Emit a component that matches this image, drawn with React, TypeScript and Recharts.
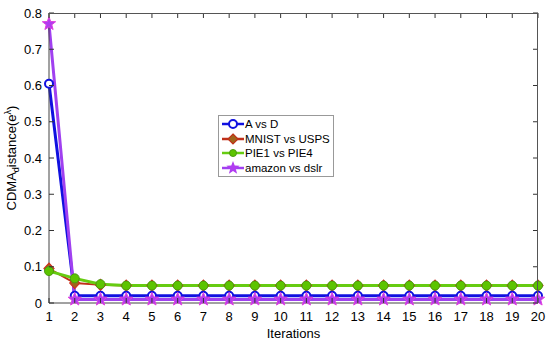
import { LineChart, Line, XAxis, YAxis } from 'recharts'

const iterations = Array.from({ length: 20 }, (_, i) => i + 1)
const aVsD = [0.605, 0.02, 0.02, 0.02, 0.02, 0.02, 0.02, 0.02, 0.02, 0.02, 0.02, 0.02, 0.02, 0.02, 0.02, 0.02, 0.02, 0.02, 0.02, 0.02]
const mnistVsUsps = [0.095, 0.055, 0.05, 0.048, 0.048, 0.048, 0.048, 0.048, 0.048, 0.048, 0.048, 0.048, 0.048, 0.048, 0.048, 0.048, 0.048, 0.048, 0.048, 0.048]
const pie1VsPie4 = [0.088, 0.068, 0.052, 0.048, 0.048, 0.048, 0.048, 0.048, 0.048, 0.048, 0.048, 0.048, 0.048, 0.048, 0.048, 0.048, 0.048, 0.048, 0.048, 0.048]
const amazonVsDslr = [0.77, 0.01, 0.01, 0.01, 0.01, 0.01, 0.01, 0.01, 0.01, 0.01, 0.01, 0.01, 0.01, 0.01, 0.01, 0.01, 0.01, 0.01, 0.01, 0.01]
const yTicks = [0, 0.1, 0.2, 0.3, 0.4, 0.5, 0.6, 0.7, 0.8]

const data = iterations.map((it, i) => ({
  it,
  ad: aVsD[i],
  mu: mnistVsUsps[i],
  pp: pie1VsPie4[i],
  az: amazonVsDslr[i],
}))

const FONT = 'Liberation Sans, Arial, sans-serif'
const TL = 5 // inward tick length
const BM = 9 // bottom tick margin
const LM = 7 // left tick margin
const TOP = 13
const RIGHT = 538
const LEFT = 49
const BOTTOM = 303

const starPath = (cx: number, cy: number, R: number) => {
  const r = R * 0.42
  let d = ''
  for (let k = 0; k < 10; k++) {
    const rad = k % 2 === 0 ? R : r
    const a = -Math.PI / 2 + (k * Math.PI) / 5
    d += (k === 0 ? 'M' : 'L') + (cx + rad * Math.cos(a)).toFixed(2) + ',' + (cy + rad * Math.sin(a)).toFixed(2)
  }
  return d + 'Z'
}

const Circle = (p: any) => <circle key={p.index} cx={p.cx} cy={p.cy} r={4} fill="#fff" stroke="#1010e0" strokeWidth={2} />
const Diamond = (p: any) => (
  <path key={p.index} d={`M${p.cx},${p.cy - 5.5}L${p.cx + 5},${p.cy}L${p.cx},${p.cy + 5.5}L${p.cx - 5},${p.cy}Z`} fill="#a0651c" stroke="#d03020" strokeWidth={1.2} />
)
const GreenDot = (p: any) => <circle key={p.index} cx={p.cx} cy={p.cy} r={4.5} fill="#5cc400" stroke="#4a9a10" strokeWidth={1} />
const Star = (p: any) => <path key={p.index} d={starPath(p.cx, p.cy, 7)} fill="#b03cf0" stroke="#e040e0" strokeWidth={1} />

// tick renderers: inward tick marks on all four sides plus labels
const BottomTick = (p: any) => {
  const y0 = Number(p.y) - BM
  return (
    <g>
      <path d={`M${p.x},${y0}V${y0 - TL}M${p.x},${TOP}V${TOP + TL}`} stroke="#333" strokeWidth={1} fill="none" />
      <text x={p.x} y={p.y} dy="0.71em" textAnchor="middle" fontSize={13} fontFamily={FONT} fill="#000">{p.payload.value}</text>
    </g>
  )
}
const LeftTick = (p: any) => {
  const v = p.payload.value
  const x0 = Number(p.x) + LM
  return (
    <g>
      <path d={`M${x0},${p.y}H${x0 + TL}M${RIGHT},${p.y}H${RIGHT - TL}`} stroke="#333" strokeWidth={1} fill="none" />
      <text x={p.x} y={p.y} dy="0.355em" textAnchor="end" fontSize={13} fontFamily={FONT} fill="#000">{v === 0 ? '0' : String(Math.round(v * 10) / 10)}</text>
    </g>
  )
}

const legendItems = [
  { name: 'A vs D', color: '#1010e0', marker: 'circle' },
  { name: 'MNIST vs USPS', color: '#c0301a', marker: 'diamond' },
  { name: 'PIE1 vs PIE4', color: '#66cc11', marker: 'green' },
  { name: 'amazon vs dslr', color: '#a040f0', marker: 'star' },
]

const LegendBox = () => (
  <div style={{ position: 'absolute', left: 218, top: 115, border: '1px solid #999', background: '#fff', padding: '1px 3px 1px 2px', fontFamily: FONT, fontSize: 11.5, whiteSpace: 'nowrap' }}>
    {legendItems.map(d => (
      <div key={d.name} style={{ display: 'flex', alignItems: 'center', height: 14.5 }}>
        <svg width={24} height={14}>
          <line x1={1} y1={7} x2={23} y2={7} stroke={d.color} strokeWidth={2.5} />
          {d.marker === 'circle' && <circle cx={12} cy={7} r={4} fill="#fff" stroke={d.color} strokeWidth={2} />}
          {d.marker === 'diamond' && <path d="M12,2L17,7L12,12L7,7Z" fill="#a0651c" stroke={d.color} strokeWidth={1.2} />}
          {d.marker === 'green' && <circle cx={12} cy={7} r={3.5} fill="#5cc400" stroke="#4a9a10" />}
          {d.marker === 'star' && <path d={starPath(12, 7, 7)} fill="#b03cf0" />}
        </svg>
        <span style={{ color: '#000' }}>{d.name}</span>
      </div>
    ))}
  </div>
)

export default function App() {
  return (
    <div style={{ position: 'absolute', left: 0, top: 0, width: 550, height: 341, background: '#fff' }}>
      <LineChart width={550} height={341} data={data} margin={{ top: TOP, right: 550 - RIGHT, bottom: 0, left: 0 }}>
        <XAxis
          dataKey="it"
          type="number"
          domain={[1, 20]}
          ticks={iterations}
          height={38}
          tickSize={0}
          tickMargin={BM}
          stroke="#444"
          tick={BottomTick}
          label={{ value: 'Iterations', position: 'insideBottom', offset: 3, fill: '#000', fontSize: 13, fontFamily: FONT }}
        />
        <YAxis
          domain={[0, 0.8]}
          ticks={yTicks}
          width={LEFT}
          tickSize={0}
          tickMargin={LM}
          stroke="#444"
          tick={LeftTick}
          label={() => (
            <text x={16} y={158} transform="rotate(-90 16 158)" textAnchor="middle" fontSize={13} fontFamily={FONT} fill="#000">
              CDMA<tspan fontSize={9} dy={3}>d</tspan><tspan dy={-3}>istance(e</tspan><tspan fontSize={9} dy={-5}>λ</tspan><tspan dy={5}>)</tspan>
            </text>
          )}
        />
        <Line dataKey="mu" name="MNIST vs USPS" stroke="#c0301a" strokeWidth={2} dot={Diamond} isAnimationActive={false} />
        <Line dataKey="pp" name="PIE1 vs PIE4" stroke="#66cc11" strokeWidth={3} dot={GreenDot} isAnimationActive={false} />
        <Line dataKey="ad" name="A vs D" stroke="#1010e0" strokeWidth={3} dot={Circle} isAnimationActive={false} />
        <Line dataKey="az" name="amazon vs dslr" stroke="#a040f0" strokeWidth={3} dot={Star} isAnimationActive={false} />
      </LineChart>
      {/* top and right edges of the axes box */}
      <div style={{ position: 'absolute', left: LEFT, top: TOP - 0.5, width: RIGHT - LEFT, height: BOTTOM - TOP, borderTop: '1px solid #555', borderRight: '1px solid #555', pointerEvents: 'none', boxSizing: 'border-box' }} />
      <LegendBox />
    </div>
  )
}
